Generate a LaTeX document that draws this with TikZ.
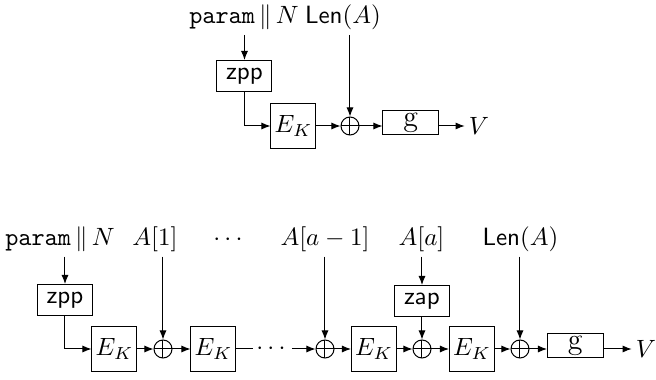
\documentclass[tikz,border=0pt]{standalone}
\usepackage{amssymb}
\usepackage{amsmath}
\usetikzlibrary{arrows.meta}

\tikzset{
  blk/.style={draw, inner sep=0pt, minimum width=18pt, minimum height=18pt},
  sblk/.style={draw, inner sep=0pt, minimum width=22pt, minimum height=12.4pt},
  gblk/.style={draw, inner sep=0pt, minimum width=22.4pt, minimum height=9.6pt, font=\large},
  xr/.style={circle, draw, inner sep=0pt, minimum size=7.2pt,
    path picture={\draw (path picture bounding box.north) -- (path picture bounding box.south)
      (path picture bounding box.west) -- (path picture bounding box.east);}},
  lbl/.style={anchor=base, inner sep=2pt},
  >={Latex[length=3.6pt,width=2.8pt]}
}

\begin{document}
\begin{tikzpicture}[x=0.4pt,y=-0.4pt]
\useasboundingbox (0,0) rectangle (656,380);

% upper one
\node[lbl] (tin) at (244,23) {$\mathtt{param}\,\|\,N$};
\node[lbl] (tlen) at (343,23) {$\mathsf{Len}(A)$};
\node[sblk] (tzpp) at (244.5,76) {$\mathsf{zpp}$};
\node[blk] (tek) at (293.5,126) {$E_K$};
\node[xr] (tx) at (350,126) {};
\node[gblk] (tg) at (411,123) {$\mathrm{g}$};
\node[inner sep=1.5pt] (tv) at (479,126) {$V$};

\draw[->] (tin.south -| tzpp) -- (tzpp);
\draw[->] (tzpp.south) |- (tek.west);
\draw[->] (tek) -- (tx);
\draw[->] (tlen.south -| tx) -- (tx);
\draw[->] (tx.east) -- (tx.east -| tg.west);
\draw[->] (tg.east |- tv) -- (tv);

% lower one
\node[lbl] (bin) at (60,245) {$\mathtt{param}\,\|\,N$};
\node[lbl] (a1) at (155,245) {$A[1]$};
\node[lbl] (dd) at (230,245) {$\cdots$};
\node[lbl] (aa1) at (325,245) {$A[a-1]$};
\node[lbl] (aa) at (421.5,245) {$A[a]$};
\node[lbl] (blen) at (520.5,245) {$\mathsf{Len}(A)$};

\node[sblk] (bzpp) at (65,300) {$\mathsf{zpp}$};
\node[sblk] (zap) at (422,301) {$\mathsf{zap}$};

\foreach \n/\x in {1/114.5,2/213.5,3/374,4/472}
  \node[blk] (ek\n) at (\x,349) {$E_K$};
\foreach \n/\x in {1/163,3/325,4/422,5/520}
  \node[xr] (x\n) at (\x,349) {};
\node[gblk] (bg) at (575.5,346) {$\mathrm{g}$};
\node[inner sep=1.5pt] (bv) at (646,349) {$V$};

\coordinate (d1) at (253,349);
\coordinate (d2) at (292,349);
\node (dots) at (273,349) {$\cdots$};

\draw[->] (bin.south -| bzpp) -- (bzpp);
\draw[->] (bzpp.south) |- (ek1.west);
\foreach \a/\b in {ek1/x1,x1/ek2,x3/ek3,ek3/x4,x4/ek4,ek4/x5}
  \draw[->] (\a) -- (\b);
\draw (ek2.east) -- (d1);
\draw[->] (d2) -- (x3);

\draw[->] (a1.south -| x1) -- (x1);
\draw[->] (aa1.south -| x3) -- (x3);
\draw[->] (aa.south -| zap) -- (zap);
\draw[->] (zap) -- (x4);
\draw[->] (blen.south -| x5) -- (x5);

\draw[->] (x5.east) -- (x5.east -| bg.west);
\draw[->] (bg.east |- bv) -- (bv);

\end{tikzpicture}
\end{document}
